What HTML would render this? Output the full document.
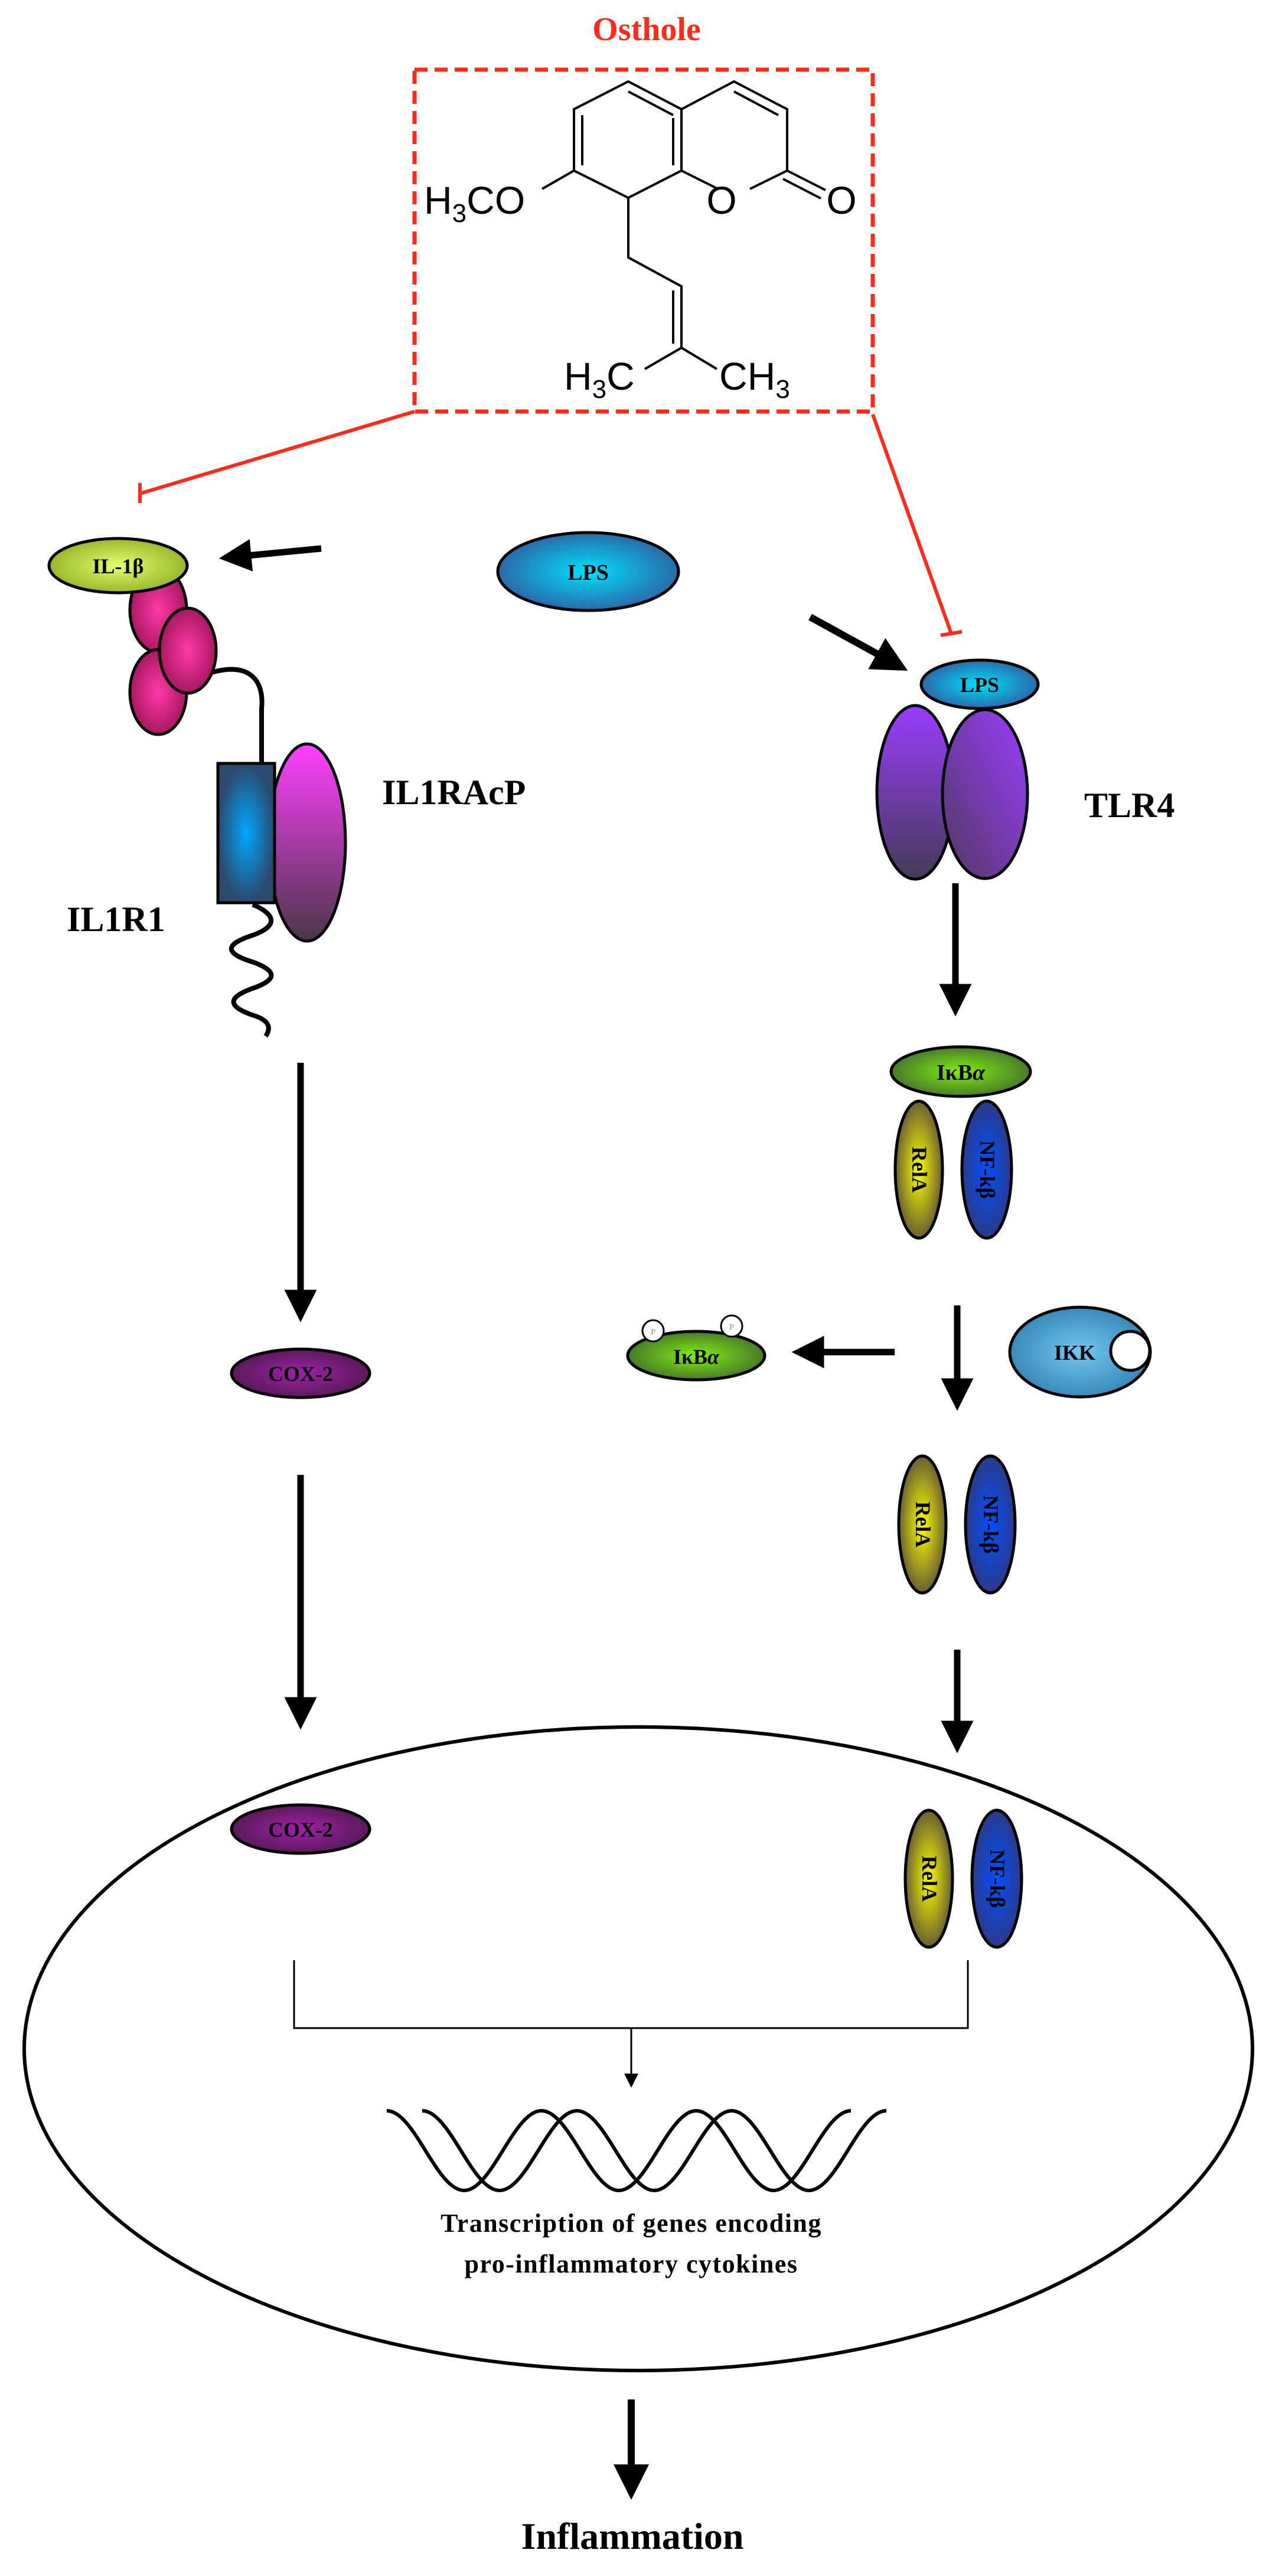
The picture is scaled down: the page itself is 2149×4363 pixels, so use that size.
<!DOCTYPE html>
<html><head><meta charset="utf-8"><style>html,body{margin:0;padding:0;background:#fff}svg{display:block}</style></head>
<body>
<svg width="2149" height="4363" viewBox="0 0 2149 4363" xmlns="http://www.w3.org/2000/svg">
<defs>
<radialGradient id="gy" cx="50%" cy="50%" r="50%"><stop offset="0" stop-color="#e6ff70"/><stop offset="1" stop-color="#98b82a"/></radialGradient>
<radialGradient id="gpink" cx="50%" cy="50%" r="50%"><stop offset="0" stop-color="#ff3aa8"/><stop offset="1" stop-color="#a81860"/></radialGradient>
<radialGradient id="gblue" cx="50%" cy="50%" r="50%"><stop offset="0" stop-color="#00a8ff"/><stop offset="1" stop-color="#2b4a6e"/></radialGradient>
<linearGradient id="gmag" x1="0" y1="0" x2="0" y2="1"><stop offset="0" stop-color="#ff40ff"/><stop offset="1" stop-color="#4a3648"/></linearGradient>
<radialGradient id="glps" cx="50%" cy="50%" r="50%"><stop offset="0" stop-color="#00e0ff"/><stop offset="1" stop-color="#2a6aa8"/></radialGradient>
<linearGradient id="gtlr" x1="0" y1="0" x2="0" y2="1"><stop offset="0" stop-color="#9a3cff"/><stop offset="1" stop-color="#453a55"/></linearGradient>
<linearGradient id="gtlr2" x1="1" y1="0" x2="0" y2="1"><stop offset="0" stop-color="#9a3cff"/><stop offset="1" stop-color="#503a60"/></linearGradient>
<radialGradient id="ggreen" cx="50%" cy="50%" r="50%"><stop offset="0" stop-color="#80f010"/><stop offset="1" stop-color="#4a7a2a"/></radialGradient>
<radialGradient id="gyel" cx="50%" cy="50%" r="50%"><stop offset="0" stop-color="#ffff00"/><stop offset="1" stop-color="#6a6030"/></radialGradient>
<radialGradient id="gnf" cx="50%" cy="50%" r="50%"><stop offset="0" stop-color="#0050ff"/><stop offset="1" stop-color="#2a3a8a"/></radialGradient>
<radialGradient id="gcox" cx="50%" cy="50%" r="50%"><stop offset="0" stop-color="#a020a8"/><stop offset="1" stop-color="#5a1a5a"/></radialGradient>
<radialGradient id="gikk" cx="50%" cy="50%" r="50%"><stop offset="0" stop-color="#70c8f0"/><stop offset="1" stop-color="#3a8ab8"/></radialGradient>
<marker id="ah" markerWidth="5" markerHeight="5" refX="0.5" refY="2.5" orient="auto" markerUnits="strokeWidth"><path d="M0,0 L5,2.5 L0,5 z" fill="#000"/></marker>
<marker id="ahs" markerWidth="8" markerHeight="8" refX="1" refY="4" orient="auto" markerUnits="strokeWidth"><path d="M0,0 L8,4 L0,8 z" fill="#000"/></marker>
</defs>

<g font-family="Liberation Serif, serif" font-weight="bold">
<text x="1095" y="68" font-size="56" fill="#ff2a1a" text-anchor="middle">Osthole</text>

<rect x="702" y="118" width="776" height="579" fill="none" stroke="#ff2a1a" stroke-width="7" stroke-dasharray="22,12"/>

<g stroke="#000" stroke-width="4" fill="none">
<polygon points="1064,138 1154,185 1154,289 1064,335 972,289 972,185"/>
<line x1="1064" y1="155" x2="1140" y2="195"/>
<line x1="1140" y1="200" x2="1140" y2="280"/>
<line x1="986" y1="195" x2="986" y2="280"/>
<polyline points="1154,185 1243,138 1333,185 1333,289 1270,320"/>
<line x1="1216" y1="320" x2="1154" y2="289"/>
<line x1="1243" y1="155" x2="1318" y2="195"/>
<line x1="1333" y1="289" x2="1398" y2="322"/>
<line x1="1326" y1="303" x2="1390" y2="336"/>
<line x1="972" y1="289" x2="918" y2="320"/>
<polyline points="1064,335 1064,436 1154,485 1154,589"/>
<line x1="1140" y1="492" x2="1140" y2="582"/>
<line x1="1154" y1="589" x2="1092" y2="625"/>
<line x1="1154" y1="589" x2="1214" y2="625"/>
</g>
<g font-family="Liberation Sans, sans-serif" font-weight="normal" font-size="66" fill="#000">
<text x="718" y="362">H<tspan font-size="44" dy="14">3</tspan><tspan dy="-14">CO</tspan></text>
<text x="1222" y="362" text-anchor="middle">O</text>
<text x="1425" y="362" text-anchor="middle">O</text>
<text x="955" y="660">H<tspan font-size="44" dy="14">3</tspan><tspan dy="-14">C</tspan></text>
<text x="1218" y="660">CH<tspan font-size="44" dy="14">3</tspan></text>
</g>

<g stroke="#ff2a1a" stroke-width="6">
<line x1="702" y1="697" x2="237" y2="836"/>
<line x1="237" y1="818" x2="237" y2="852"/>
<line x1="1478" y1="702" x2="1611" y2="1073"/>
<line x1="1593" y1="1076" x2="1629" y2="1070"/>
</g>

<!-- IL1 receptor -->
<path d="M355,1140 C420,1120 448,1150 443,1200 L443,1295" stroke="#000" stroke-width="8" fill="none"/>
<ellipse cx="268" cy="1033" rx="48" ry="72" fill="url(#gpink)" stroke="#000" stroke-width="5"/>
<ellipse cx="268" cy="1172" rx="48" ry="72" fill="url(#gpink)" stroke="#000" stroke-width="5"/>
<ellipse cx="318" cy="1102" rx="48" ry="72" fill="url(#gpink)" stroke="#000" stroke-width="5"/>
<ellipse cx="200" cy="958" rx="117" ry="46" fill="url(#gy)" stroke="#000" stroke-width="5"/>
<text x="200" y="971" font-size="36" text-anchor="middle">IL-1β</text>
<line x1="544" y1="929" x2="420" y2="941" stroke="#000" stroke-width="11" marker-end="url(#ah)"/>

<ellipse cx="520" cy="1427" rx="65" ry="167" fill="url(#gmag)" stroke="#000" stroke-width="5"/>
<rect x="369" y="1293" width="96" height="236" fill="url(#gblue)" stroke="#000" stroke-width="5"/>
<path d="M428,1532 C470,1550 470,1570 425,1585 C380,1600 380,1615 430,1630 C470,1645 470,1660 425,1675 C385,1690 385,1705 430,1720 C455,1728 460,1740 450,1755" stroke="#000" stroke-width="8" fill="none"/>
<text x="647" y="1362" font-size="60">IL1RAcP</text>
<text x="113" y="1577" font-size="60">IL1R1</text>

<!-- LPS / TLR4 -->
<ellipse cx="996" cy="968" rx="153" ry="66" fill="url(#glps)" stroke="#000" stroke-width="5"/>
<text x="996" y="982" font-size="38" text-anchor="middle">LPS</text>
<line x1="1372" y1="1045" x2="1490" y2="1110" stroke="#000" stroke-width="12" marker-end="url(#ah)"/>
<ellipse cx="1550" cy="1342" rx="65" ry="147" fill="url(#gtlr)" stroke="#000" stroke-width="5"/>
<ellipse cx="1668" cy="1345" rx="72" ry="143" fill="url(#gtlr2)" stroke="#000" stroke-width="5"/>
<ellipse cx="1659" cy="1159" rx="99" ry="41" fill="url(#glps)" stroke="#000" stroke-width="5"/>
<text x="1659" y="1172" font-size="36" text-anchor="middle">LPS</text>
<text x="1836" y="1384" font-size="60">TLR4</text>
<line x1="1618" y1="1496" x2="1618" y2="1672" stroke="#000" stroke-width="11" marker-end="url(#ah)"/>

<!-- IkBa complex 1 -->
<ellipse cx="1627" cy="1815" rx="118" ry="42" fill="url(#ggreen)" stroke="#000" stroke-width="5"/>
<text x="1627" y="1829" font-size="38" text-anchor="middle">IκB<tspan font-style="italic">α</tspan></text>
<g id="pair">
<ellipse cx="1556" cy="1981" rx="40" ry="116" fill="url(#gyel)" stroke="#000" stroke-width="5"/>
<ellipse cx="1671" cy="1981" rx="42" ry="116" fill="url(#gnf)" stroke="#000" stroke-width="5"/>
<text transform="translate(1545,1981) rotate(90)" font-size="36" text-anchor="middle">RelA</text>
<text transform="translate(1660,1981) rotate(90)" font-size="36" text-anchor="middle">NF-kβ</text>
</g>

<line x1="1621" y1="2211" x2="1621" y2="2340" stroke="#000" stroke-width="11" marker-end="url(#ah)"/>
<ellipse cx="1829" cy="2290" rx="119" ry="76" fill="url(#gikk)" stroke="#000" stroke-width="5"/>
<circle cx="1914" cy="2288" r="33" fill="#fff" stroke="#000" stroke-width="5"/>
<text x="1820" y="2303" font-size="36" text-anchor="middle">IKK</text>
<line x1="1515" y1="2290" x2="1390" y2="2290" stroke="#000" stroke-width="11" marker-end="url(#ah)"/>
<ellipse cx="1179" cy="2296" rx="116" ry="41" fill="url(#ggreen)" stroke="#000" stroke-width="5"/>
<text x="1179" y="2310" font-size="36" text-anchor="middle">IκB<tspan font-style="italic">α</tspan></text>
<circle cx="1106" cy="2254" r="18" fill="#fff" stroke="#000" stroke-width="3"/>
<circle cx="1239" cy="2246" r="18" fill="#fff" stroke="#000" stroke-width="3"/>
<text x="1106" y="2260" font-size="14" font-weight="normal" text-anchor="middle" fill="#888">P</text>
<text x="1239" y="2252" font-size="14" font-weight="normal" text-anchor="middle" fill="#888">P</text>

<use href="#pair" transform="translate(6,601)"/>
<line x1="1621" y1="2794" x2="1621" y2="2920" stroke="#000" stroke-width="11" marker-end="url(#ah)"/>

<line x1="509" y1="1800" x2="509" y2="2190" stroke="#000" stroke-width="11" marker-end="url(#ah)"/>
<ellipse cx="509" cy="2326" rx="117" ry="41" fill="url(#gcox)" stroke="#000" stroke-width="5"/>
<text x="509" y="2339" font-size="36" text-anchor="middle">COX-2</text>
<line x1="509" y1="2498" x2="509" y2="2880" stroke="#000" stroke-width="11" marker-end="url(#ah)"/>

<ellipse cx="1081" cy="3470" rx="1040" ry="545" fill="none" stroke="#000" stroke-width="6"/>
<ellipse cx="509" cy="3098" rx="117" ry="41" fill="url(#gcox)" stroke="#000" stroke-width="5"/>
<text x="509" y="3111" font-size="36" text-anchor="middle">COX-2</text>
<use href="#pair" transform="translate(17,1201)"/>
<polyline points="498,3320 498,3435 1639,3435 1639,3320" fill="none" stroke="#000" stroke-width="3"/>
<line x1="1069" y1="3435" x2="1069" y2="3515" stroke="#000" stroke-width="3" marker-end="url(#ahs)"/>

<!-- DNA: two sine strands -->
<g fill="none" stroke="#000" stroke-width="6">
<path id="w1" d="M655,3575 C702,3575 739,3710 786,3710 C833,3710 870,3575 917,3575 C964,3575 1001,3710 1048,3710 C1095,3710 1132,3575 1179,3575 C1226,3575 1263,3710 1310,3710 C1357,3710 1394,3575 1441,3575"/>
<use href="#w1" transform="translate(60,0)"/>
</g>
<text x="1069" y="3780" font-size="44" text-anchor="middle" letter-spacing="1.5">Transcription of genes encoding</text>
<text x="1069" y="3849" font-size="44" text-anchor="middle" letter-spacing="1.5">pro-inflammatory cytokines</text>

<line x1="1069" y1="4064" x2="1069" y2="4180" stroke="#000" stroke-width="12" marker-end="url(#ah)"/>
<text x="1071" y="4317" font-size="64" text-anchor="middle">Inflammation</text>
</g>
</svg>
</body></html>
